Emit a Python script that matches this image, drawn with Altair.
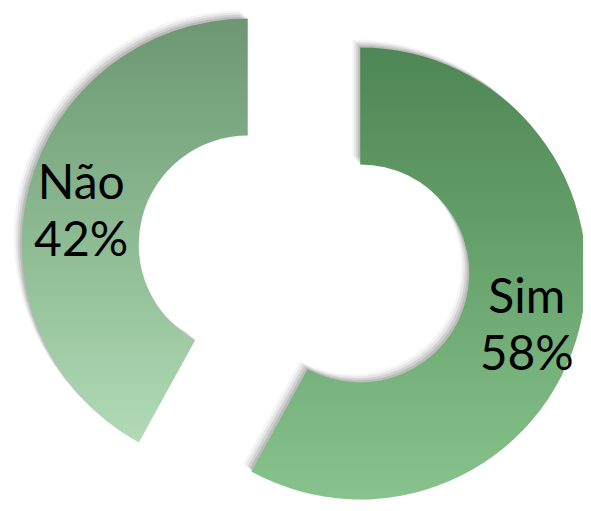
import math
import altair as alt
import pandas as pd

# Data
categories = ["Sim", "Não"]
values = [58, 42]
order_idx = [0, 1]

df = pd.DataFrame({"cat": categories, "value": values, "ord": order_idx})

# geometry in units of the outer radius
EXPLODE = 0.257
LABEL_R = 0.761
R_PX = 226
INNER_PX = 109
W, H = 575, 495

xscale = alt.Scale(domain=[-1.310, 1.235], range=[0, W], nice=False, zero=False)
yscale = alt.Scale(domain=[-1.080, 1.111], range=[H, 0], nice=False, zero=False)
tscale = alt.Scale(domain=[0, 100], range=[0, 2 * math.pi])

base = alt.Chart(df).transform_window(
    cum="sum(value)", sort=[alt.SortField("ord")], frame=[None, 0]
).transform_calculate(
    start="datum.cum - datum.value",
    end="datum.cum",
    mid="(datum.cum - datum.value / 2) / 100 * 2 * PI",
).transform_calculate(
    cx=f"{EXPLODE} * sin(datum.mid)",
    cy=f"{EXPLODE} * cos(datum.mid)",
).transform_calculate(
    lx=f"datum.cx + {LABEL_R} * sin(datum.mid)",
    ly=f"datum.cy + {LABEL_R} * cos(datum.mid)",
    label="[datum.cat, datum.value + '%']",
)

arc_enc = dict(
    x=alt.X("cx:Q", scale=xscale, axis=None),
    y=alt.Y("cy:Q", scale=yscale, axis=None),
    theta=alt.Theta("start:Q", scale=tscale, stack=None),
    theta2=alt.Theta2("end:Q"),
)

shadows = []
for off, op in [(2, 0.10), (4, 0.09), (6, 0.06), (8, 0.04)]:
    shadows.append(
        base.mark_arc(
            outerRadius=R_PX, innerRadius=INNER_PX, fill="#000000",
            opacity=op, xOffset=-off, yOffset=-off,
        ).encode(**arc_enc)
    )

sim_grad = alt.LinearGradient(
    gradient="linear", x1=0, y1=0, x2=0, y2=1,
    stops=[alt.GradientStop(color="#4e8656", offset=0),
           alt.GradientStop(color="#619b66", offset=0.35),
           alt.GradientStop(color="#88c38e", offset=1)],
)
nao_grad = alt.LinearGradient(
    gradient="linear", x1=0, y1=0, x2=0, y2=1,
    stops=[alt.GradientStop(color="#6c9772", offset=0),
           alt.GradientStop(color="#93c098", offset=0.6),
           alt.GradientStop(color="#b2dab7", offset=1)],
)

sim_arc = base.transform_filter(alt.datum.cat == "Sim").mark_arc(
    outerRadius=R_PX, innerRadius=INNER_PX, fill=sim_grad
).encode(**arc_enc)
nao_arc = base.transform_filter(alt.datum.cat == "Não").mark_arc(
    outerRadius=R_PX, innerRadius=INNER_PX, fill=nao_grad
).encode(**arc_enc)

labels = base.mark_text(
    font="Lato", fontSize=48, color="#000000", lineHeight=57,
    align="center", baseline="middle", dy=-17,
).encode(
    x=alt.X("lx:Q", scale=xscale, axis=None),
    y=alt.Y("ly:Q", scale=yscale, axis=None),
    text=alt.Text("label:N"),
)

chart = alt.layer(*shadows, sim_arc, nao_arc, labels).properties(
    width=W, height=H, padding=0, autosize="none", background="white"
).configure_view(stroke=None)

chart.save("out.html", embed_options={"renderer": "svg", "actions": False})
